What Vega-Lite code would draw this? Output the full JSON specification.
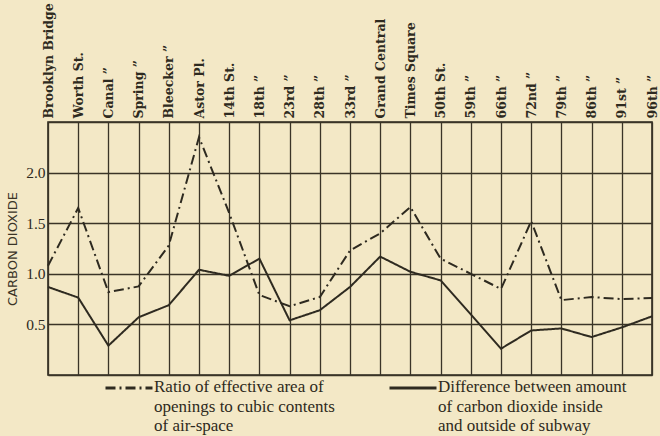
{
  "$schema": "https://vega.github.io/schema/vega-lite/v6.json",
  "width": 604,
  "height": 253,
  "autosize": "none",
  "padding": {"left": 48, "top": 122, "right": 8, "bottom": 61},
  "background": "#f3e8c6",
  "config": {
    "view": {"stroke": "#2e2a20", "strokeWidth": 1.6},
    "axis": {"gridColor": "#3a3427", "gridWidth": 1.3, "gridOpacity": 1, "domain": false, "ticks": false}
  },
  "data": {"values": [
    {"station": "Brooklyn Bridge", "series": "ratio", "value": 1.08},
    {"station": "Worth St.", "series": "ratio", "value": 1.65},
    {"station": "Canal ”", "series": "ratio", "value": 0.82},
    {"station": "Spring ”", "series": "ratio", "value": 0.875},
    {"station": "Bleecker ”", "series": "ratio", "value": 1.28},
    {"station": "Astor Pl.", "series": "ratio", "value": 2.35},
    {"station": "14th St.", "series": "ratio", "value": 1.6},
    {"station": "18th ”", "series": "ratio", "value": 0.79},
    {"station": "23rd ”", "series": "ratio", "value": 0.68},
    {"station": "28th ”", "series": "ratio", "value": 0.77},
    {"station": "33rd ”", "series": "ratio", "value": 1.23},
    {"station": "Grand Central", "series": "ratio", "value": 1.4},
    {"station": "Times Square", "series": "ratio", "value": 1.66},
    {"station": "50th St.", "series": "ratio", "value": 1.15},
    {"station": "59th ”", "series": "ratio", "value": 1.0},
    {"station": "66th ”", "series": "ratio", "value": 0.85},
    {"station": "72nd ”", "series": "ratio", "value": 1.52},
    {"station": "79th ”", "series": "ratio", "value": 0.74},
    {"station": "86th ”", "series": "ratio", "value": 0.77},
    {"station": "91st ”", "series": "ratio", "value": 0.75},
    {"station": "96th ”", "series": "ratio", "value": 0.76},
    {"station": "Brooklyn Bridge", "series": "difference", "value": 0.87},
    {"station": "Worth St.", "series": "difference", "value": 0.765},
    {"station": "Canal ”", "series": "difference", "value": 0.29},
    {"station": "Spring ”", "series": "difference", "value": 0.57},
    {"station": "Bleecker ”", "series": "difference", "value": 0.69},
    {"station": "Astor Pl.", "series": "difference", "value": 1.04},
    {"station": "14th St.", "series": "difference", "value": 0.98},
    {"station": "18th ”", "series": "difference", "value": 1.15},
    {"station": "23rd ”", "series": "difference", "value": 0.54},
    {"station": "28th ”", "series": "difference", "value": 0.64},
    {"station": "33rd ”", "series": "difference", "value": 0.87},
    {"station": "Grand Central", "series": "difference", "value": 1.17},
    {"station": "Times Square", "series": "difference", "value": 1.02},
    {"station": "50th St.", "series": "difference", "value": 0.935},
    {"station": "59th ”", "series": "difference", "value": 0.6},
    {"station": "66th ”", "series": "difference", "value": 0.26},
    {"station": "72nd ”", "series": "difference", "value": 0.44},
    {"station": "79th ”", "series": "difference", "value": 0.46},
    {"station": "86th ”", "series": "difference", "value": 0.375},
    {"station": "91st ”", "series": "difference", "value": 0.47},
    {"station": "96th ”", "series": "difference", "value": 0.58}
  ]},
  "mark": {"type": "line", "color": "#2e2a20", "strokeWidth": 2},
  "encoding": {
    "x": {
      "field": "station", "type": "nominal", "sort": null,
      "scale": {"type": "point", "padding": 0},
      "axis": {
        "orient": "top", "title": null, "labelAngle": 270, "labelAlign": "left", "labelBaseline": "middle",
        "labelPadding": 4, "labelFont": "DejaVu Serif", "labelFontWeight": "bold", "labelFontSize": 12.5,
        "labelColor": "#2e2a20", "grid": true, "labelLimit": 200
      }
    },
    "y": {
      "field": "value", "type": "quantitative",
      "scale": {"domain": [0, 2.5], "nice": false},
      "axis": {
        "values": [0, 0.5, 1, 1.5, 2, 2.5], "format": ".1f",
        "labelExpr": "datum.value == 0 || datum.value == 2.5 ? '' : datum.label",
        "labelFont": "Liberation Serif", "labelFontSize": 15.5, "labelColor": "#2e2a20", "labelPadding": 3,
        "title": "CARBON DIOXIDE", "titleFont": "DejaVu Sans", "titleFontSize": 13, "titleFontWeight": "normal",
        "titleColor": "#3a3427", "titlePadding": 6
      }
    },
    "strokeDash": {
      "field": "series", "type": "nominal",
      "scale": {"domain": ["ratio", "difference"], "range": [[10, 4, 2, 4], [1, 0]]},
      "legend": {
        "title": null, "orient": "none", "legendX": 56, "legendY": 241, "direction": "horizontal", "columns": 2,
        "columnPadding": 48, "symbolType": "stroke", "symbolSize": 2209, "symbolStrokeWidth": 3,
        "symbolStrokeColor": "#2e2a20", "labelOffset": 0,
        "labelExpr": "datum.value == 'ratio' ? ['Ratio of effective area of', 'openings to cubic contents', 'of air-space'] : ['Difference between amount', 'of carbon dioxide inside', 'and outside of subway']",
        "labelFont": "Liberation Serif", "labelFontSize": 17, "labelColor": "#2e2a20", "labelLimit": 400,
        "labelBaseline": "top",
        "encode": {"labels": {"update": {"lineHeight": {"value": 19.5}, "dy": {"value": -9}}}}
      }
    }
  }
}
